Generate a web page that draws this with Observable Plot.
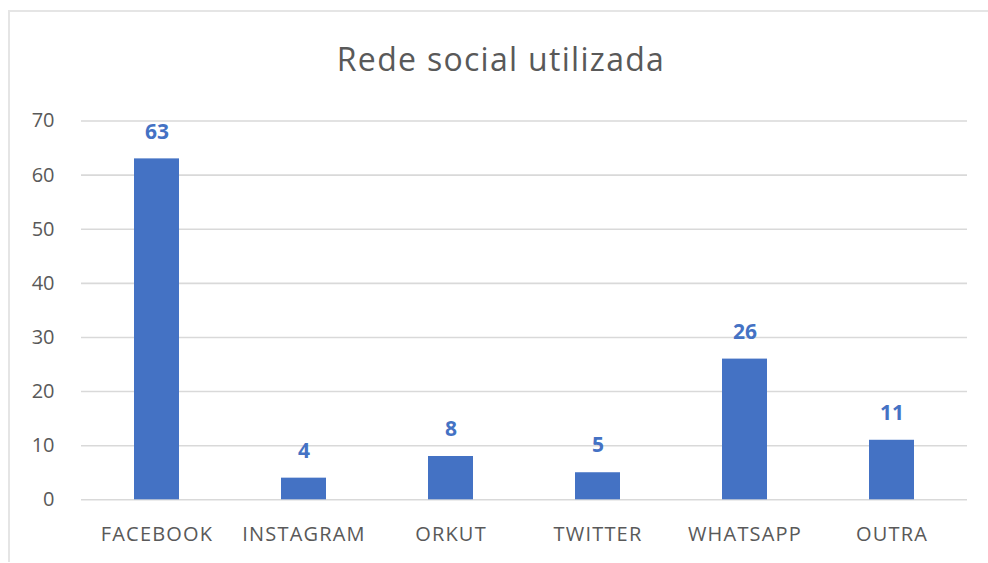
<!DOCTYPE html>
<html><head><meta charset="utf-8">
<script src="https://cdn.jsdelivr.net/npm/d3@7"></script>
<script src="https://cdn.jsdelivr.net/npm/@observablehq/plot@0.6"></script>
<style>
html,body{margin:0;padding:0;background:#fff;width:988px;height:563px;overflow:hidden;}
#frame{position:absolute;left:8px;top:10px;width:1000px;height:550px;border-left:2px solid #e5e5e5;border-top:2px solid #e5e5e5;}
#title{position:absolute;left:0;width:1002px;top:43px;text-align:center;font-family:"Open Sans";font-size:32px;line-height:32px;letter-spacing:1.3px;color:#595959;white-space:nowrap;}
#chart{position:absolute;left:0;top:0;}
g[aria-label="x-axis tick label"] text{letter-spacing:1.2px;}
</style></head>
<body>
<div id="frame"></div>
<div id="title">Rede social utilizada</div>
<div id="chart"></div>
<script>
const categories = ["FACEBOOK", "INSTAGRAM", "ORKUT", "TWITTER", "WHATSAPP", "OUTRA"];
const values = [63, 4, 8, 5, 26, 11];
const yTicks = [0, 10, 20, 30, 40, 50, 60, 70];

const data = categories.map((c, i) => ({rede: c, n: values[i]}));

const chart = Plot.plot({
  width: 988,
  height: 563,
  marginTop: 120.5,
  marginBottom: 63.7,
  marginLeft: 81,
  marginRight: 21,
  style: {fontFamily: "Open Sans", fontSize: "20px", color: "#595959", background: "transparent"},
  x: {domain: categories, paddingInner: 0.695, paddingOuter: 0.3475, label: null},
  y: {domain: [0, 70], label: null},
  marks: [
    Plot.gridY(yTicks, {stroke: "#d9d9d9", strokeOpacity: 1, strokeWidth: 1.6}),
    Plot.axisY(yTicks, {tickSize: 0, tickPadding: 27, label: null}),
    Plot.axisX({tickSize: 0, tickPadding: 27, label: null}),
    Plot.barY(data, {x: "rede", y: "n", fill: "#4472C4"}),
    Plot.text(data, {x: "rede", y: "n", text: d => String(d.n), dy: -27, fill: "#4472C4", fontWeight: "bold", fontSize: 21})
  ]
});
document.getElementById("chart").appendChild(chart);
</script>
</body></html>
